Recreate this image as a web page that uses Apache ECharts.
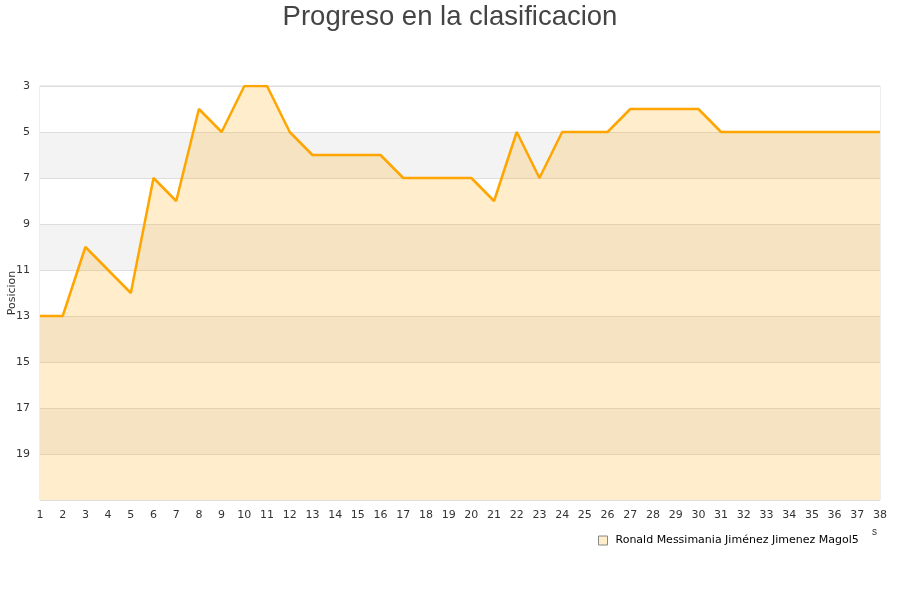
<!DOCTYPE html>
<html><head><meta charset="utf-8">
<script src="https://cdn.jsdelivr.net/npm/echarts@6/dist/echarts.min.js"></script>
<style>html,body{margin:0;padding:0;background:#fff}#c{width:900px;height:600px}</style>
</head><body><div id="c"></div>
<script>
const jornadas = ['1','2','3','4','5','6','7','8','9','10','11','12','13','14','15','16','17','18','19','20','21','22','23','24','25','26','27','28','29','30','31','32','33','34','35','36','37','38'];
const posicion = [13,13,10,11,12,7,8,4,5,3,3,5,6,6,6,6,7,7,7,7,8,5,7,5,5,5,4,4,4,4,5,5,5,5,5,5,5,5];
const seriesName = 'Ronald Messimania Jiménez Jimenez Magol5';
const titleText = 'Progreso en la clasificacion';
const yName = 'Posicion';

const chart = echarts.init(document.getElementById('c'));
chart.setOption({
  animation: false,
  textStyle: {fontFamily: 'DejaVu Sans'},
  title: {text: titleText, left: 'center', top: -2,
    textStyle: {fontSize: 27.5, fontWeight: 'normal', color: '#444', fontFamily: 'Liberation Sans'}},
  grid: {left: 40, right: 20, top: 86, bottom: 100, outerBoundsMode: 'none', containLabel: false,
    show: true, borderColor: '#ddd', borderWidth: 1, backgroundColor: 'transparent'},
  legend: {bottom: 49, left: 593, itemWidth: 9, itemHeight: 9, icon: 'rect', itemGap: 8,
    textStyle: {fontSize: 11, color: '#000', padding: [0, 0, 0, 3]},
    data: [{name: seriesName, itemStyle: {color: '#ffedcc', borderColor: '#888', borderWidth: 1}}]},
  xAxis: {type: 'category', data: jornadas, boundaryGap: false,
    axisLine: {show: false}, axisTick: {show: false},
    axisLabel: {fontSize: 11, color: '#333', interval: 0, margin: 10},
    splitLine: {show: false}},
  yAxis: {type: 'value', inverse: true, min: 3, max: 21, interval: 2,
    name: yName, nameLocation: 'middle', nameGap: 22, nameMoveOverlap: false,
    nameTextStyle: {fontSize: 11, color: '#333'},
    axisLine: {show: false}, axisTick: {show: false},
    axisLabel: {fontSize: 11, color: '#333', margin: 10, formatter: v => v === 21 ? '' : v},
    splitLine: {lineStyle: {color: '#ddd'}},
    splitArea: {show: true, areaStyle: {color: ['#ffffff', '#f3f3f3']}}},
  graphic: [{type: 'text', left: 872, top: 527, style: {text: 's', fontSize: 10, fill: '#333'}}],
  series: [{name: seriesName, type: 'line', data: posicion, symbol: 'none',
    lineStyle: {color: '#ffa500', width: 2.5},
    itemStyle: {color: '#ffa500'},
    areaStyle: {color: 'rgba(255,165,0,0.2)', opacity: 1, origin: 'end'}}]
});
</script></body></html>
